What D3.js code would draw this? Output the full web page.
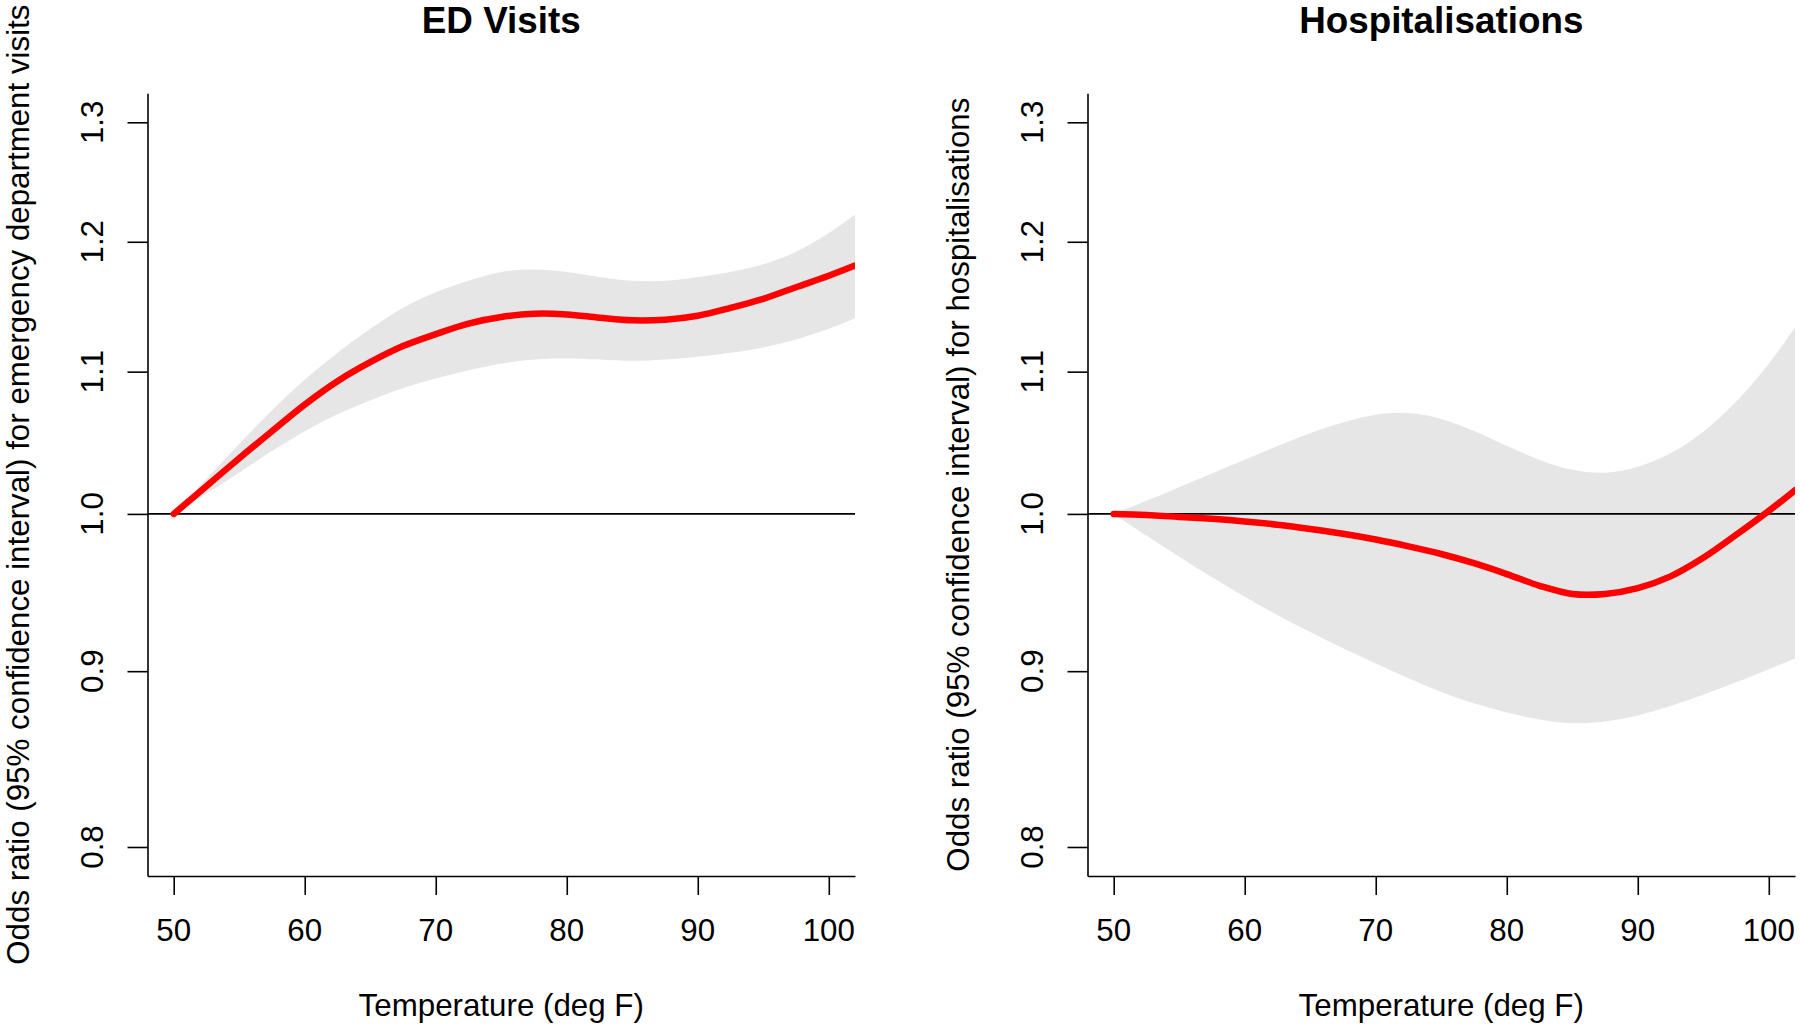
<!DOCTYPE html>
<html lang="en-US">
<head>
  <meta charset="UTF-8"/>
  <title>Odds ratio by temperature</title>
  <style>
    body { margin: 0; background: #ffffff; }
    svg text { font-family: "Liberation Sans", Arial, Helvetica, sans-serif; fill: #000; }
  </style>
</head>
<body>
<svg id="chart" width="1800" height="1030"></svg>

<script src="https://cdn.jsdelivr.net/npm/d3@7"></script>
<script>

// ED visits: temperature (deg F), odds ratio and 95% CI
var ed_temp = [50, 52, 55, 57.5, 60, 62.5, 65, 67.5, 70, 72.5, 75, 77.5, 80, 82.5, 85, 87.5, 90, 92.5, 95, 97.5, 100, 102];
var ed_or   = [1.000, 1.015, 1.038, 1.057, 1.076, 1.093, 1.107, 1.119, 1.128, 1.136, 1.141, 1.1435, 1.143, 1.1405, 1.1385, 1.139, 1.142, 1.148, 1.155, 1.164, 1.173, 1.181];
var ed_hi   = [1.000, 1.019, 1.048, 1.072, 1.094, 1.114, 1.132, 1.148, 1.160, 1.169, 1.176, 1.178, 1.176, 1.172, 1.169, 1.169, 1.172, 1.176, 1.182, 1.192, 1.207, 1.222];
var ed_lo   = [1.000, 1.011, 1.028, 1.043, 1.057, 1.069, 1.079, 1.088, 1.095, 1.101, 1.106, 1.109, 1.110, 1.109, 1.108, 1.109, 1.111, 1.114, 1.118, 1.124, 1.132, 1.140];

// Hospitalisations
var hosp_temp = [50, 52.5, 55, 57.5, 60, 62.5, 65, 67.5, 70, 72.5, 75, 77.5, 80, 82.5, 85, 87.5, 90, 92.5, 95, 97.5, 100, 102];
var hosp_or   = [1.000, 0.9992, 0.998, 0.9967, 0.995, 0.9928, 0.990, 0.9868, 0.983, 0.9785, 0.9735, 0.9675, 0.9605, 0.9530, 0.9478, 0.9478, 0.9515, 0.959, 0.971, 0.986, 1.002, 1.016];
var hosp_hi   = [1.000, 1.0088, 1.0181, 1.0275, 1.0370, 1.0466, 1.0555, 1.0631, 1.0687, 1.0699, 1.0657, 1.0572, 1.0467, 1.0368, 1.0300, 1.0280, 1.0321, 1.0414, 1.0566, 1.0780, 1.1058, 1.1333];
var hosp_lo   = [1.000, 0.9856, 0.9717, 0.9584, 0.9460, 0.9345, 0.9239, 0.9139, 0.9047, 0.8957, 0.8876, 0.8808, 0.8754, 0.8714, 0.8692, 0.8702, 0.8737, 0.8792, 0.8859, 0.8933, 0.9012, 0.9077];

// axis ticks and texts
var xticks  = [50, 60, 70, 80, 90, 100];
var yticks  = [0.8, 0.9, 1.0, 1.1, 1.2, 1.3];
var titles  = ["ED Visits", "Hospitalisations"];
var ylabels = ["Odds ratio (95% confidence interval) for emergency department visits",
               "Odds ratio (95% confidence interval) for hospitalisations"];
var xlabel  = "Temperature (deg F)";

var panels = [
  {temp: ed_temp,   or: ed_or,   lo: ed_lo,   hi: ed_hi,   title: titles[0], ylab: ylabels[0]},
  {temp: hosp_temp, or: hosp_or, lo: hosp_lo, hi: hosp_hi, title: titles[1], ylab: ylabels[1]}
];

// plot region of each panel (px)
var plotLeft = [147.5, 1087.5], plotW = 707.5;
var plotTop = 93.3, plotBottom = 876;
var fontAxis = "31.3px", fontMain = "36.8px";

var svg = d3.select("#chart");

panels.forEach(function(p, k) {
    var x0 = plotLeft[k], x1 = x0 + plotW;

    // scales: R style 4% padding around xlim c(50,100), log y round ylim c(0.8,1.3)
    var xScale = d3.scaleLinear().domain([48, 102]).range([x0, x1]);
    var yScale = d3.scaleLog().domain([0.7846, 1.3255]).range([plotBottom, plotTop]);

    var g = svg.append("g");

    g.append("clipPath").attr("id", "clip" + k)
      .append("rect").attr("x", x0).attr("y", plotTop)
      .attr("width", plotW).attr("height", plotBottom - plotTop);

    var rows = p.temp.map(function(t, i) { return {t: t, or: p.or[i], lo: p.lo[i], hi: p.hi[i]}; });

    var area = d3.area()
        .x(function(d) { return xScale(d.t); })
        .y0(function(d) { return yScale(d.lo); })
        .y1(function(d) { return yScale(d.hi); })
        .curve(d3.curveCatmullRom.alpha(0.5));

    var line = d3.line()
        .x(function(d) { return xScale(d.t); })
        .y(function(d) { return yScale(d.or); })
        .curve(d3.curveCatmullRom.alpha(0.5));

    var inner = g.append("g").attr("clip-path", "url(#clip" + k + ")");

    inner.append("path").datum(rows)
        .attr("d", area)
        .attr("fill", "#e6e6e6")
        .attr("stroke", "none");

    // reference line at OR = 1
    inner.append("line")
        .attr("x1", x0).attr("x2", x1)
        .attr("y1", yScale(1)).attr("y2", yScale(1))
        .attr("stroke", "#000").attr("stroke-width", 1.6);

    inner.append("path").datum(rows)
        .attr("d", line)
        .attr("fill", "none")
        .attr("stroke", "#ff0000")
        .attr("stroke-width", 6.5)
        .attr("stroke-linecap", "round");

    // axes (lines and ticks only, labels added below)
    g.append("g")
        .attr("transform", "translate(" + x0 + ",0)")
        .call(d3.axisLeft(yScale).tickValues(yticks).tickSize(20).tickSizeOuter(0).tickFormat(""));
    g.append("g")
        .attr("transform", "translate(0," + plotBottom + ")")
        .call(d3.axisBottom(xScale).tickValues(xticks).tickSize(19).tickSizeOuter(0).tickFormat(""));
    g.selectAll(".domain, .tick line").attr("stroke", "#000").attr("stroke-width", 1.6);

    // y tick labels, rotated like R's las=0
    g.selectAll(".ylab-tick").data(yticks).enter()
      .append("text")
        .attr("transform", function(d) { return "translate(" + (x0 - 45) + "," + yScale(d) + ") rotate(-90)"; })
        .attr("text-anchor", "middle")
        .style("font-size", fontAxis)
        .text(function(d) { return d3.format(".1f")(d); });

    // x tick labels
    g.selectAll(".xlab-tick").data(xticks).enter()
      .append("text")
        .attr("x", function(d) { return xScale(d); })
        .attr("y", 941)
        .attr("text-anchor", "middle")
        .style("font-size", fontAxis)
        .text(function(d) { return d; });

    // titles and axis labels
    g.append("text")
        .attr("x", (x0 + x1) / 2).attr("y", 33)
        .attr("text-anchor", "middle")
        .style("font-size", fontMain).style("font-weight", "bold")
        .text(p.title);

    g.append("text")
        .attr("x", (x0 + x1) / 2).attr("y", 1016)
        .attr("text-anchor", "middle")
        .style("font-size", fontAxis)
        .text(xlabel);

    g.append("text")
        .attr("transform", "translate(" + (x0 - 119) + "," + ((plotTop + plotBottom) / 2) + ") rotate(-90)")
        .attr("text-anchor", "middle")
        .style("font-size", fontAxis)
        .text(p.ylab);
});

</script>
</body>
</html>
